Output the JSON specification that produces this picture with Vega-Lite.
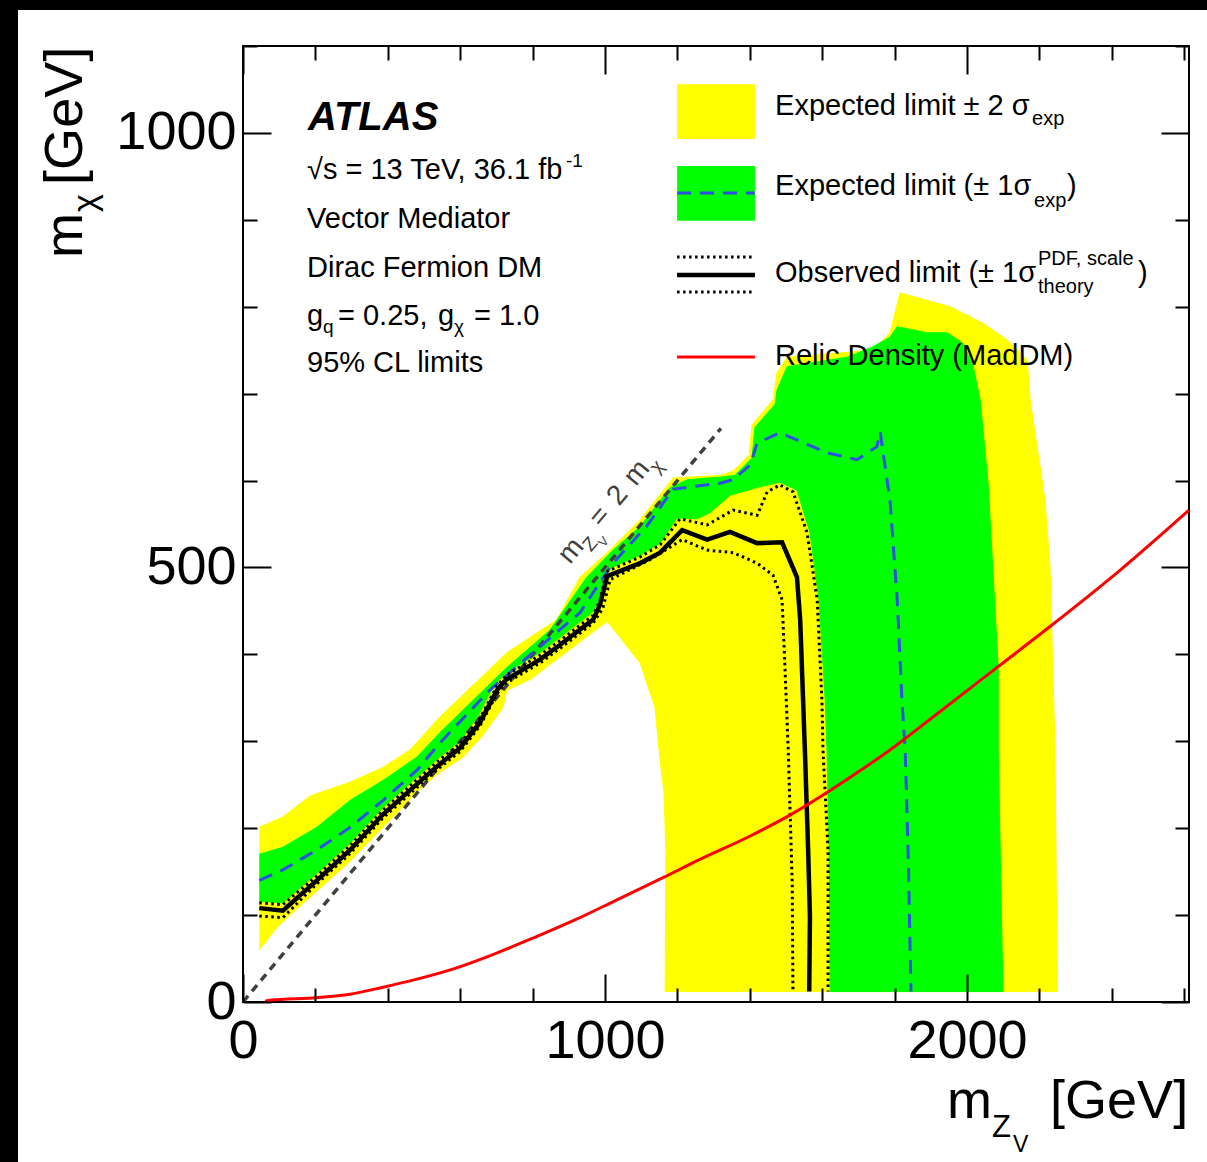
{
  "$schema": "https://vega.github.io/schema/vega-lite/v6.json",
  "width": 946,
  "height": 956,
  "autosize": {"type": "none"},
  "padding": {"left": 243, "top": 46, "right": 18, "bottom": 160},
  "background": "white",
  "config": {
    "view": {"stroke": "black", "strokeWidth": 2},
    "text": {"font": "Liberation Sans"},
    "axis": {"labelFont": "Liberation Sans", "titleFont": "Liberation Sans"}
  },
  "resolve": {"axis": {"x": "independent", "y": "independent"}},
  "datasets": {
    "curves": [
      {"c":"exp2","i":1,"x":45,"y":201},{"c":"exp2","i":2,"x":110,"y":213},{"c":"exp2","i":3,"x":185,"y":237},{"c":"exp2","i":4,"x":296,"y":253},{"c":"exp2","i":5,"x":387,"y":270},{"c":"exp2","i":6,"x":461,"y":290},{"c":"exp2","i":7,"x":544,"y":328},{"c":"exp2","i":8,"x":729,"y":402},{"c":"exp2","i":9,"x":867,"y":440},{"c":"exp2","i":10,"x":931,"y":489},{"c":"exp2","i":11,"x":1006,"y":517},{"c":"exp2","i":12,"x":1097,"y":555},{"c":"exp2","i":13,"x":1188,"y":603},{"c":"exp2","i":14,"x":1318,"y":606},{"c":"exp2","i":15,"x":1354,"y":611},{"c":"exp2","i":16,"x":1398,"y":629},{"c":"exp2","i":17,"x":1406,"y":664},{"c":"exp2","i":18,"x":1464,"y":693},{"c":"exp2","i":19,"x":1475,"y":724},{"c":"exp2","i":20,"x":1503,"y":742},{"c":"exp2","i":21,"x":1740,"y":750},{"c":"exp2","i":22,"x":1787,"y":770},{"c":"exp2","i":23,"x":1815,"y":816},{"c":"exp2","i":24,"x":1953,"y":800},{"c":"exp2","i":25,"x":2044,"y":781},{"c":"exp2","i":26,"x":2110,"y":762},{"c":"exp2","i":27,"x":2166,"y":739},{"c":"exp2","i":28,"x":2174,"y":693},{"c":"exp2","i":29,"x":2215,"y":578},{"c":"exp2","i":30,"x":2229,"y":501},{"c":"exp2","i":31,"x":2243,"y":290},{"c":"exp2","i":32,"x":2249,"y":12},{"c":"exp2","i":33,"x":1166,"y":12},{"c":"exp2","i":34,"x":1168,"y":175},{"c":"exp2","i":35,"x":1163,"y":240},{"c":"exp2","i":36,"x":1152,"y":278},{"c":"exp2","i":37,"x":1138,"y":339},{"c":"exp2","i":38,"x":1097,"y":390},{"c":"exp2","i":39,"x":1006,"y":438},{"c":"exp2","i":40,"x":920,"y":411},{"c":"exp2","i":41,"x":793,"y":371},{"c":"exp2","i":42,"x":729,"y":359},{"c":"exp2","i":43,"x":718,"y":339},{"c":"exp2","i":44,"x":663,"y":307},{"c":"exp2","i":45,"x":608,"y":282},{"c":"exp2","i":46,"x":536,"y":262},{"c":"exp2","i":47,"x":481,"y":242},{"c":"exp2","i":48,"x":296,"y":162},{"c":"exp2","i":49,"x":130,"y":100},{"c":"exp2","i":50,"x":94,"y":86},{"c":"exp2","i":51,"x":45,"y":60},

      {"c":"exp1","i":1,"x":45,"y":170},{"c":"exp1","i":2,"x":110,"y":178},{"c":"exp1","i":3,"x":204,"y":201},{"c":"exp1","i":4,"x":296,"y":232},{"c":"exp1","i":5,"x":387,"y":255},{"c":"exp1","i":6,"x":481,"y":282},{"c":"exp1","i":7,"x":544,"y":310},{"c":"exp1","i":8,"x":729,"y":385},{"c":"exp1","i":9,"x":848,"y":428},{"c":"exp1","i":10,"x":950,"y":489},{"c":"exp1","i":11,"x":1022,"y":520},{"c":"exp1","i":12,"x":1097,"y":547},{"c":"exp1","i":13,"x":1180,"y":592},{"c":"exp1","i":14,"x":1227,"y":601},{"c":"exp1","i":15,"x":1318,"y":604},{"c":"exp1","i":16,"x":1359,"y":606},{"c":"exp1","i":17,"x":1406,"y":626},{"c":"exp1","i":18,"x":1414,"y":661},{"c":"exp1","i":19,"x":1470,"y":688},{"c":"exp1","i":20,"x":1475,"y":704},{"c":"exp1","i":21,"x":1503,"y":731},{"c":"exp1","i":22,"x":1669,"y":742},{"c":"exp1","i":23,"x":1740,"y":754},{"c":"exp1","i":24,"x":1787,"y":765},{"c":"exp1","i":25,"x":1807,"y":777},{"c":"exp1","i":26,"x":1890,"y":770},{"c":"exp1","i":27,"x":1945,"y":770},{"c":"exp1","i":28,"x":1989,"y":758},{"c":"exp1","i":29,"x":2017,"y":731},{"c":"exp1","i":30,"x":2036,"y":693},{"c":"exp1","i":31,"x":2058,"y":597},{"c":"exp1","i":32,"x":2086,"y":385},{"c":"exp1","i":33,"x":2086,"y":290},{"c":"exp1","i":34,"x":2099,"y":12},{"c":"exp1","i":35,"x":1622,"y":12},{"c":"exp1","i":36,"x":1619,"y":175},{"c":"exp1","i":37,"x":1613,"y":290},{"c":"exp1","i":38,"x":1608,"y":348},{"c":"exp1","i":39,"x":1591,"y":463},{"c":"exp1","i":40,"x":1566,"y":540},{"c":"exp1","i":41,"x":1530,"y":589},{"c":"exp1","i":42,"x":1483,"y":598},{"c":"exp1","i":43,"x":1420,"y":592},{"c":"exp1","i":44,"x":1345,"y":583},{"c":"exp1","i":45,"x":1290,"y":563},{"c":"exp1","i":46,"x":1254,"y":556},{"c":"exp1","i":47,"x":1199,"y":557},{"c":"exp1","i":48,"x":1152,"y":528},{"c":"exp1","i":49,"x":1097,"y":514},{"c":"exp1","i":50,"x":1003,"y":497},{"c":"exp1","i":51,"x":986,"y":465},{"c":"exp1","i":52,"x":967,"y":449},{"c":"exp1","i":53,"x":820,"y":402},{"c":"exp1","i":54,"x":727,"y":379},{"c":"exp1","i":55,"x":693,"y":365},{"c":"exp1","i":56,"x":649,"y":329},{"c":"exp1","i":57,"x":599,"y":300},{"c":"exp1","i":58,"x":544,"y":282},{"c":"exp1","i":59,"x":481,"y":259},{"c":"exp1","i":60,"x":387,"y":224},{"c":"exp1","i":61,"x":296,"y":183},{"c":"exp1","i":62,"x":204,"y":148},{"c":"exp1","i":63,"x":110,"y":114},{"c":"exp1","i":64,"x":45,"y":116},

      {"c":"diag","i":1,"x":0,"y":0},{"c":"diag","i":2,"x":1320,"y":660},

      {"c":"exp","i":1,"x":45,"y":140},{"c":"exp","i":2,"x":110,"y":152},{"c":"exp","i":3,"x":204,"y":175},{"c":"exp","i":4,"x":296,"y":201},{"c":"exp","i":5,"x":387,"y":232},{"c":"exp","i":6,"x":481,"y":267},{"c":"exp","i":7,"x":544,"y":298},{"c":"exp","i":8,"x":682,"y":359},{"c":"exp","i":9,"x":820,"y":409},{"c":"exp","i":10,"x":931,"y":448},{"c":"exp","i":11,"x":978,"y":478},{"c":"exp","i":12,"x":1022,"y":505},{"c":"exp","i":13,"x":1116,"y":548},{"c":"exp","i":14,"x":1188,"y":590},{"c":"exp","i":15,"x":1243,"y":593},{"c":"exp","i":16,"x":1318,"y":597},{"c":"exp","i":17,"x":1354,"y":601},{"c":"exp","i":18,"x":1401,"y":618},{"c":"exp","i":19,"x":1420,"y":643},{"c":"exp","i":20,"x":1483,"y":655},{"c":"exp","i":21,"x":1613,"y":632},{"c":"exp","i":22,"x":1696,"y":624},{"c":"exp","i":23,"x":1751,"y":639},{"c":"exp","i":24,"x":1760,"y":656},{"c":"exp","i":25,"x":1768,"y":632},{"c":"exp","i":26,"x":1787,"y":578},{"c":"exp","i":27,"x":1807,"y":463},{"c":"exp","i":28,"x":1820,"y":348},{"c":"exp","i":29,"x":1829,"y":290},{"c":"exp","i":30,"x":1837,"y":175},{"c":"exp","i":31,"x":1845,"y":12},

      {"c":"obs_up","i":1,"x":45,"y":114},{"c":"obs_up","i":2,"x":110,"y":112},{"c":"obs_up","i":3,"x":204,"y":145},{"c":"obs_up","i":4,"x":296,"y":180},{"c":"obs_up","i":5,"x":387,"y":221},{"c":"obs_up","i":6,"x":481,"y":256},{"c":"obs_up","i":7,"x":544,"y":279},{"c":"obs_up","i":8,"x":599,"y":297},{"c":"obs_up","i":9,"x":655,"y":327},{"c":"obs_up","i":10,"x":702,"y":364},{"c":"obs_up","i":11,"x":727,"y":376},{"c":"obs_up","i":12,"x":820,"y":399},{"c":"obs_up","i":13,"x":876,"y":416},{"c":"obs_up","i":14,"x":967,"y":445},{"c":"obs_up","i":15,"x":986,"y":462},{"c":"obs_up","i":16,"x":1003,"y":495},{"c":"obs_up","i":17,"x":1097,"y":512},{"c":"obs_up","i":18,"x":1152,"y":526},{"c":"obs_up","i":19,"x":1207,"y":556},{"c":"obs_up","i":20,"x":1282,"y":549},{"c":"obs_up","i":21,"x":1354,"y":566},{"c":"obs_up","i":22,"x":1420,"y":560},{"c":"obs_up","i":23,"x":1448,"y":587},{"c":"obs_up","i":24,"x":1483,"y":595},{"c":"obs_up","i":25,"x":1519,"y":587},{"c":"obs_up","i":26,"x":1558,"y":540},{"c":"obs_up","i":27,"x":1586,"y":463},{"c":"obs_up","i":28,"x":1599,"y":348},{"c":"obs_up","i":29,"x":1602,"y":290},{"c":"obs_up","i":30,"x":1616,"y":175},{"c":"obs_up","i":31,"x":1616,"y":12},

      {"c":"obs_dn","i":1,"x":45,"y":99},{"c":"obs_dn","i":2,"x":110,"y":97},{"c":"obs_dn","i":3,"x":204,"y":136},{"c":"obs_dn","i":4,"x":296,"y":171},{"c":"obs_dn","i":5,"x":387,"y":212},{"c":"obs_dn","i":6,"x":481,"y":247},{"c":"obs_dn","i":7,"x":544,"y":270},{"c":"obs_dn","i":8,"x":599,"y":288},{"c":"obs_dn","i":9,"x":655,"y":318},{"c":"obs_dn","i":10,"x":702,"y":355},{"c":"obs_dn","i":11,"x":727,"y":367},{"c":"obs_dn","i":12,"x":820,"y":390},{"c":"obs_dn","i":13,"x":876,"y":407},{"c":"obs_dn","i":14,"x":967,"y":436},{"c":"obs_dn","i":15,"x":994,"y":453},{"c":"obs_dn","i":16,"x":1014,"y":486},{"c":"obs_dn","i":17,"x":1124,"y":509},{"c":"obs_dn","i":18,"x":1213,"y":532},{"c":"obs_dn","i":19,"x":1282,"y":520},{"c":"obs_dn","i":20,"x":1354,"y":517},{"c":"obs_dn","i":21,"x":1420,"y":505},{"c":"obs_dn","i":22,"x":1464,"y":491},{"c":"obs_dn","i":23,"x":1489,"y":463},{"c":"obs_dn","i":24,"x":1497,"y":385},{"c":"obs_dn","i":25,"x":1506,"y":290},{"c":"obs_dn","i":26,"x":1517,"y":137},{"c":"obs_dn","i":27,"x":1519,"y":12},

      {"c":"obs","i":1,"x":45,"y":108},{"c":"obs","i":2,"x":110,"y":105},{"c":"obs","i":3,"x":204,"y":140},{"c":"obs","i":4,"x":296,"y":175},{"c":"obs","i":5,"x":387,"y":216},{"c":"obs","i":6,"x":481,"y":251},{"c":"obs","i":7,"x":544,"y":274},{"c":"obs","i":8,"x":599,"y":292},{"c":"obs","i":9,"x":655,"y":322},{"c":"obs","i":10,"x":702,"y":359},{"c":"obs","i":11,"x":727,"y":371},{"c":"obs","i":12,"x":820,"y":394},{"c":"obs","i":13,"x":876,"y":411},{"c":"obs","i":14,"x":967,"y":440},{"c":"obs","i":15,"x":986,"y":457},{"c":"obs","i":16,"x":1006,"y":490},{"c":"obs","i":17,"x":1097,"y":505},{"c":"obs","i":18,"x":1152,"y":517},{"c":"obs","i":19,"x":1213,"y":543},{"c":"obs","i":20,"x":1282,"y":532},{"c":"obs","i":21,"x":1345,"y":541},{"c":"obs","i":22,"x":1420,"y":528},{"c":"obs","i":23,"x":1489,"y":529},{"c":"obs","i":24,"x":1530,"y":489},{"c":"obs","i":25,"x":1539,"y":440},{"c":"obs","i":26,"x":1547,"y":348},{"c":"obs","i":27,"x":1552,"y":290},{"c":"obs","i":28,"x":1561,"y":175},{"c":"obs","i":29,"x":1566,"y":98},{"c":"obs","i":30,"x":1564,"y":12},

      {"c":"relic","i":1,"x":61,"y":1},{"c":"relic","i":2,"x":75,"y":2},{"c":"relic","i":3,"x":202,"y":5},{"c":"relic","i":4,"x":296,"y":9},{"c":"relic","i":5,"x":387,"y":17},{"c":"relic","i":6,"x":478,"y":26},{"c":"relic","i":7,"x":588,"y":39},{"c":"relic","i":8,"x":699,"y":56},{"c":"relic","i":9,"x":809,"y":75},{"c":"relic","i":10,"x":920,"y":95},{"c":"relic","i":11,"x":1030,"y":117},{"c":"relic","i":12,"x":1160,"y":143},{"c":"relic","i":13,"x":1262,"y":164},{"c":"relic","i":14,"x":1401,"y":191},{"c":"relic","i":15,"x":1519,"y":217},{"c":"relic","i":16,"x":1613,"y":241},{"c":"relic","i":17,"x":1704,"y":266},{"c":"relic","i":18,"x":1787,"y":290},{"c":"relic","i":19,"x":1906,"y":328},{"c":"relic","i":20,"x":2083,"y":385},{"c":"relic","i":21,"x":2229,"y":432},{"c":"relic","i":22,"x":2423,"y":497},{"c":"relic","i":23,"x":2613,"y":566},

      {"c":"key_exp","i":1,"x":1199,"y":931},{"c":"key_exp","i":2,"x":1414,"y":931},
      {"c":"key_obs","i":1,"x":1199,"y":836.6},{"c":"key_obs","i":2,"x":1414,"y":836.6},
      {"c":"key_obs_up","i":1,"x":1199,"y":857.3},{"c":"key_obs_up","i":2,"x":1414,"y":857.3},
      {"c":"key_obs_dn","i":1,"x":1199,"y":817},{"c":"key_obs_dn","i":2,"x":1414,"y":817},
      {"c":"key_relic","i":1,"x":1199,"y":742.2},{"c":"key_relic","i":2,"x":1414,"y":742.2}
    ],
    "swatches": [
      {"k":"exp2","x":1199,"x2":1414,"y":993,"y2":1056},
      {"k":"exp1","x":1199,"x2":1414,"y":899,"y2":962}
    ],
    "annoMain": [
      {"t":"√s = 13 TeV, 36.1 fb","x":176.8,"y":947.1},
      {"t":"Vector Mediator","x":176.8,"y":890.7},
      {"t":"Dirac Fermion DM","x":176.8,"y":834.3},
      {"t":"g","x":176.8,"y":779.1},
      {"t":"= 0.25,","x":262.4,"y":779.1},
      {"t":"g","x":538.7,"y":779.1},
      {"t":"= 1.0","x":638.1,"y":779.1},
      {"t":"95% CL limits","x":176.8,"y":725.0}
    ],
    "annoSub": [
      {"t":"-1","x":892,"y":960.9},
      {"t":"q","x":221,"y":769.8},
      {"t":"χ","x":582.9,"y":769.8}
    ],
    "atlas": [{"t":"ATLAS","x":179.6,"y":1003.5}],
    "legMain": [
      {"t":"Expected limit ± 2 σ","x":1469.6,"y":1020.7},
      {"t":"Expected limit (± 1σ","x":1469.6,"y":928.7},
      {"t":")","x":2276,"y":928.7},
      {"t":"Observed limit (± 1σ","x":1469.6,"y":828.5},
      {"t":")","x":2472,"y":828.5},
      {"t":"Relic Density (MadDM)","x":1469.6,"y":733.0}
    ],
    "legSub": [
      {"t":"exp","x":2179.6,"y":1009.2},
      {"t":"exp","x":2185,"y":914.8},
      {"t":"PDF, scale","x":2196,"y":848.1},
      {"t":"theory","x":2196,"y":815.9}
    ],
    "xTitleMain": [
      {"t":"m","x":1944.8,"y":-133.5},
      {"t":"[GeV]","x":2229.3,"y":-133.5}
    ],
    "xTitleSub": [{"t":"Z","x":2069,"y":-155.3}],
    "xTitleSub2": [{"t":"V","x":2127,"y":-172.6}],
    "yTitleMain": [
      {"t":"m","x":-444.8,"y":856.2},
      {"t":"[GeV]","x":-444.8,"y":940.2}
    ],
    "yTitleSub": [{"t":"χ","x":-406,"y":909.1}],
    "diagMain": [
      {"t":"m","x":903.3,"y":502.9},
      {"t":"=","x":988.7,"y":545.2},
      {"t":"2","x":1038.4,"y":569.8},
      {"t":"m","x":1084.5,"y":592.7}
    ],
    "diagSub": [
      {"t":"Z","x":961.0,"y":517.3},
      {"t":"χ","x":1146.1,"y":607.3}
    ],
    "diagSub2": [{"t":"V","x":997.2,"y":522.7}]
  },
  "layer": [
    {
      "data": {"values": [{}]},
      "mark": {"type": "rect", "color": "black"},
      "encoding": {
        "x": {"datum": -700, "type": "quantitative", "scale": {"domain": [0, 2613], "nice": false, "zero": false}, "axis": null},
        "x2": {"datum": 2900},
        "y": {"datum": 1141.5, "type": "quantitative", "scale": {"domain": [0, 1100], "nice": false, "zero": false}, "axis": null},
        "y2": {"datum": 1300}
      }
    },
    {
      "data": {"values": [{}]},
      "mark": {"type": "rect", "color": "black"},
      "encoding": {
        "x": {"datum": -700, "type": "quantitative", "scale": {"domain": [0, 2613], "nice": false, "zero": false}, "axis": null},
        "x2": {"datum": -621.5},
        "y": {"datum": -300, "type": "quantitative", "scale": {"domain": [0, 1100], "nice": false, "zero": false}, "axis": null},
        "y2": {"datum": 1300}
      }
    },
    {
      "data": {"name": "curves"},
      "transform": [{"filter": "datum.c === 'exp2'"}],
      "mark": {"type": "line", "filled": true, "fill": "#ffff00", "stroke": "#ffff00", "strokeWidth": 1, "interpolate": "linear"},
      "encoding": {
        "x": {"field": "x", "type": "quantitative", "scale": {"domain": [0, 2613], "nice": false, "zero": false},
              "axis": {"orient": "bottom", "values": [0, 1000, 2000], "ticks": false, "domain": false, "grid": false, "labelFontSize": 54, "labelColor": "black", "labelPadding": 12, "labelFlush": false, "labelOverlap": false, "format": "d", "title": null, "zindex": 1}},
        "y": {"field": "y", "type": "quantitative", "scale": {"domain": [0, 1100], "nice": false, "zero": false},
              "axis": {"orient": "left", "values": [0, 500, 1000], "ticks": false, "domain": false, "grid": false, "labelFontSize": 54, "labelColor": "black", "labelPadding": 7, "labelFlush": false, "labelOverlap": false, "format": "d", "title": null, "zindex": 1}},
        "order": {"field": "i", "type": "quantitative"}
      }
    },
    {
      "data": {"name": "curves"},
      "transform": [{"filter": "datum.c === 'exp1'"}],
      "mark": {"type": "line", "filled": true, "fill": "#00ff00", "stroke": "#00ff00", "strokeWidth": 1, "interpolate": "linear"},
      "encoding": {
        "x": {"field": "x", "type": "quantitative", "scale": {"domain": [0, 2613], "nice": false, "zero": false},
              "axis": {"orient": "bottom", "values": [0,200,400,600,800,1000,1200,1400,1600,1800,2000,2200,2400,2600], "labels": false, "domain": false, "grid": false, "ticks": true, "tickColor": "black", "tickWidth": 2,
                       "tickSize": {"condition": {"test": "datum.value % 1000 === 0", "value": -28}, "value": -14}, "title": null, "zindex": 2}},
        "y": {"field": "y", "type": "quantitative", "scale": {"domain": [0, 1100], "nice": false, "zero": false},
              "axis": {"orient": "left", "values": [0,100,200,300,400,500,600,700,800,900,1000,1100], "labels": false, "domain": false, "grid": false, "ticks": true, "tickColor": "black", "tickWidth": 2,
                       "tickSize": {"condition": {"test": "datum.value % 500 === 0", "value": -28}, "value": -14}, "title": null, "zindex": 2}},
        "order": {"field": "i", "type": "quantitative"}
      }
    },
    {
      "data": {"name": "swatches"},
      "transform": [{"filter": "datum.k === 'exp2'"}],
      "mark": {"type": "rect", "color": "#ffff00"},
      "encoding": {
        "x": {"field": "x", "type": "quantitative", "scale": {"domain": [0, 2613], "nice": false, "zero": false}, "axis": null},
        "x2": {"field": "x2"},
        "y": {"field": "y", "type": "quantitative", "scale": {"domain": [0, 1100], "nice": false, "zero": false}, "axis": null},
        "y2": {"field": "y2"}
      }
    },
    {
      "data": {"name": "swatches"},
      "transform": [{"filter": "datum.k === 'exp1'"}],
      "mark": {"type": "rect", "color": "#00ff00"},
      "encoding": {
        "x": {"field": "x", "type": "quantitative", "scale": {"domain": [0, 2613], "nice": false, "zero": false}, "axis": null},
        "x2": {"field": "x2"},
        "y": {"field": "y", "type": "quantitative", "scale": {"domain": [0, 1100], "nice": false, "zero": false}, "axis": null},
        "y2": {"field": "y2"}
      }
    },
    {
      "data": {"name": "curves"},
      "transform": [{"filter": "datum.c === 'diag'"}],
      "mark": {"type": "line", "stroke": "#404040", "strokeWidth": 3.5, "strokeDash": [8, 6]},
      "encoding": {
        "x": {"field": "x", "type": "quantitative", "scale": {"domain": [0, 2613], "nice": false, "zero": false}, "axis": null},
        "y": {"field": "y", "type": "quantitative", "scale": {"domain": [0, 1100], "nice": false, "zero": false}, "axis": null},
        "order": {"field": "i", "type": "quantitative"}
      }
    },
    {
      "data": {"name": "curves"},
      "transform": [{"filter": "datum.c === 'exp' || datum.c === 'key_exp'"}],
      "mark": {"type": "line", "stroke": "#2f4fe0", "strokeWidth": 3, "strokeDash": [14, 9]},
      "encoding": {
        "x": {"field": "x", "type": "quantitative", "scale": {"domain": [0, 2613], "nice": false, "zero": false},
              "axis": {"orient": "top", "values": [0,200,400,600,800,1000,1200,1400,1600,1800,2000,2200,2400,2600], "labels": false, "domain": false, "grid": false, "ticks": true, "tickColor": "black", "tickWidth": 2,
                       "tickSize": {"condition": {"test": "datum.value % 1000 === 0", "value": -28}, "value": -14}, "title": null, "zindex": 2}},
        "y": {"field": "y", "type": "quantitative", "scale": {"domain": [0, 1100], "nice": false, "zero": false},
              "axis": {"orient": "right", "values": [0,100,200,300,400,500,600,700,800,900,1000,1100], "labels": false, "domain": false, "grid": false, "ticks": true, "tickColor": "black", "tickWidth": 2,
                       "tickSize": {"condition": {"test": "datum.value % 500 === 0", "value": -28}, "value": -14}, "title": null, "zindex": 2}},
        "detail": {"field": "c"},
        "order": {"field": "i", "type": "quantitative"}
      }
    },
    {
      "data": {"name": "curves"},
      "transform": [{"filter": "datum.c === 'obs_up' || datum.c === 'obs_dn' || datum.c === 'key_obs_up' || datum.c === 'key_obs_dn'"}],
      "mark": {"type": "line", "stroke": "black", "strokeWidth": 3, "strokeDash": [2.5, 3.5]},
      "encoding": {
        "x": {"field": "x", "type": "quantitative", "scale": {"domain": [0, 2613], "nice": false, "zero": false}, "axis": null},
        "y": {"field": "y", "type": "quantitative", "scale": {"domain": [0, 1100], "nice": false, "zero": false}, "axis": null},
        "detail": {"field": "c"},
        "order": {"field": "i", "type": "quantitative"}
      }
    },
    {
      "data": {"name": "curves"},
      "transform": [{"filter": "datum.c === 'obs' || datum.c === 'key_obs'"}],
      "mark": {"type": "line", "stroke": "black", "strokeWidth": 4.5},
      "encoding": {
        "x": {"field": "x", "type": "quantitative", "scale": {"domain": [0, 2613], "nice": false, "zero": false}, "axis": null},
        "y": {"field": "y", "type": "quantitative", "scale": {"domain": [0, 1100], "nice": false, "zero": false}, "axis": null},
        "detail": {"field": "c"},
        "order": {"field": "i", "type": "quantitative"}
      }
    },
    {
      "data": {"name": "curves"},
      "transform": [{"filter": "datum.c === 'relic' || datum.c === 'key_relic'"}],
      "mark": {"type": "line", "stroke": "#ff0000", "strokeWidth": 3, "interpolate": "monotone"},
      "encoding": {
        "x": {"field": "x", "type": "quantitative", "scale": {"domain": [0, 2613], "nice": false, "zero": false}, "axis": null},
        "y": {"field": "y", "type": "quantitative", "scale": {"domain": [0, 1100], "nice": false, "zero": false}, "axis": null},
        "detail": {"field": "c"},
        "order": {"field": "i", "type": "quantitative"}
      }
    },
    {
      "data": {"name": "annoMain"},
      "mark": {"type": "text", "font": "Liberation Sans", "fontSize": 29, "align": "left", "baseline": "alphabetic", "color": "black"},
      "encoding": {
        "x": {"field": "x", "type": "quantitative", "scale": {"domain": [0, 2613], "nice": false, "zero": false}, "axis": null},
        "y": {"field": "y", "type": "quantitative", "scale": {"domain": [0, 1100], "nice": false, "zero": false}, "axis": null},
        "text": {"field": "t"}
      }
    },
    {
      "data": {"name": "annoSub"},
      "mark": {"type": "text", "font": "Liberation Sans", "fontSize": 19, "align": "left", "baseline": "alphabetic", "color": "black"},
      "encoding": {
        "x": {"field": "x", "type": "quantitative", "scale": {"domain": [0, 2613], "nice": false, "zero": false}, "axis": null},
        "y": {"field": "y", "type": "quantitative", "scale": {"domain": [0, 1100], "nice": false, "zero": false}, "axis": null},
        "text": {"field": "t"}
      }
    },
    {
      "data": {"name": "atlas"},
      "mark": {"type": "text", "font": "Liberation Sans", "fontSize": 40, "fontWeight": "bold", "fontStyle": "italic", "align": "left", "baseline": "alphabetic", "color": "black"},
      "encoding": {
        "x": {"field": "x", "type": "quantitative", "scale": {"domain": [0, 2613], "nice": false, "zero": false}, "axis": null},
        "y": {"field": "y", "type": "quantitative", "scale": {"domain": [0, 1100], "nice": false, "zero": false}, "axis": null},
        "text": {"field": "t"}
      }
    },
    {
      "data": {"name": "legMain"},
      "mark": {"type": "text", "font": "Liberation Sans", "fontSize": 29, "align": "left", "baseline": "alphabetic", "color": "black"},
      "encoding": {
        "x": {"field": "x", "type": "quantitative", "scale": {"domain": [0, 2613], "nice": false, "zero": false}, "axis": null},
        "y": {"field": "y", "type": "quantitative", "scale": {"domain": [0, 1100], "nice": false, "zero": false}, "axis": null},
        "text": {"field": "t"}
      }
    },
    {
      "data": {"name": "legSub"},
      "mark": {"type": "text", "font": "Liberation Sans", "fontSize": 20, "align": "left", "baseline": "alphabetic", "color": "black"},
      "encoding": {
        "x": {"field": "x", "type": "quantitative", "scale": {"domain": [0, 2613], "nice": false, "zero": false}, "axis": null},
        "y": {"field": "y", "type": "quantitative", "scale": {"domain": [0, 1100], "nice": false, "zero": false}, "axis": null},
        "text": {"field": "t"}
      }
    },
    {
      "data": {"name": "xTitleMain"},
      "mark": {"type": "text", "font": "Liberation Sans", "fontSize": 54, "align": "left", "baseline": "alphabetic", "color": "black"},
      "encoding": {
        "x": {"field": "x", "type": "quantitative", "scale": {"domain": [0, 2613], "nice": false, "zero": false}, "axis": null},
        "y": {"field": "y", "type": "quantitative", "scale": {"domain": [0, 1100], "nice": false, "zero": false}, "axis": null},
        "text": {"field": "t"}
      }
    },
    {
      "data": {"name": "xTitleSub"},
      "mark": {"type": "text", "font": "Liberation Sans", "fontSize": 31, "align": "left", "baseline": "alphabetic", "color": "black"},
      "encoding": {
        "x": {"field": "x", "type": "quantitative", "scale": {"domain": [0, 2613], "nice": false, "zero": false}, "axis": null},
        "y": {"field": "y", "type": "quantitative", "scale": {"domain": [0, 1100], "nice": false, "zero": false}, "axis": null},
        "text": {"field": "t"}
      }
    },
    {
      "data": {"name": "xTitleSub2"},
      "mark": {"type": "text", "font": "Liberation Sans", "fontSize": 23, "align": "left", "baseline": "alphabetic", "color": "black"},
      "encoding": {
        "x": {"field": "x", "type": "quantitative", "scale": {"domain": [0, 2613], "nice": false, "zero": false}, "axis": null},
        "y": {"field": "y", "type": "quantitative", "scale": {"domain": [0, 1100], "nice": false, "zero": false}, "axis": null},
        "text": {"field": "t"}
      }
    },
    {
      "data": {"name": "yTitleMain"},
      "mark": {"type": "text", "font": "Liberation Sans", "fontSize": 54, "align": "left", "baseline": "alphabetic", "angle": 270, "color": "black"},
      "encoding": {
        "x": {"field": "x", "type": "quantitative", "scale": {"domain": [0, 2613], "nice": false, "zero": false}, "axis": null},
        "y": {"field": "y", "type": "quantitative", "scale": {"domain": [0, 1100], "nice": false, "zero": false}, "axis": null},
        "text": {"field": "t"}
      }
    },
    {
      "data": {"name": "yTitleSub"},
      "mark": {"type": "text", "font": "Liberation Sans", "fontSize": 34, "align": "left", "baseline": "alphabetic", "angle": 270, "color": "black"},
      "encoding": {
        "x": {"field": "x", "type": "quantitative", "scale": {"domain": [0, 2613], "nice": false, "zero": false}, "axis": null},
        "y": {"field": "y", "type": "quantitative", "scale": {"domain": [0, 1100], "nice": false, "zero": false}, "axis": null},
        "text": {"field": "t"}
      }
    },
    {
      "data": {"name": "diagMain"},
      "mark": {"type": "text", "font": "Liberation Sans", "fontSize": 28, "align": "left", "baseline": "alphabetic", "angle": 310, "color": "#404040"},
      "encoding": {
        "x": {"field": "x", "type": "quantitative", "scale": {"domain": [0, 2613], "nice": false, "zero": false}, "axis": null},
        "y": {"field": "y", "type": "quantitative", "scale": {"domain": [0, 1100], "nice": false, "zero": false}, "axis": null},
        "text": {"field": "t"}
      }
    },
    {
      "data": {"name": "diagSub"},
      "mark": {"type": "text", "font": "Liberation Sans", "fontSize": 19, "align": "left", "baseline": "alphabetic", "angle": 310, "color": "#404040"},
      "encoding": {
        "x": {"field": "x", "type": "quantitative", "scale": {"domain": [0, 2613], "nice": false, "zero": false}, "axis": null},
        "y": {"field": "y", "type": "quantitative", "scale": {"domain": [0, 1100], "nice": false, "zero": false}, "axis": null},
        "text": {"field": "t"}
      }
    },
    {
      "data": {"name": "diagSub2"},
      "mark": {"type": "text", "font": "Liberation Sans", "fontSize": 13, "align": "left", "baseline": "alphabetic", "angle": 310, "color": "#404040"},
      "encoding": {
        "x": {"field": "x", "type": "quantitative", "scale": {"domain": [0, 2613], "nice": false, "zero": false}, "axis": null},
        "y": {"field": "y", "type": "quantitative", "scale": {"domain": [0, 1100], "nice": false, "zero": false}, "axis": null},
        "text": {"field": "t"}
      }
    }
  ]
}
